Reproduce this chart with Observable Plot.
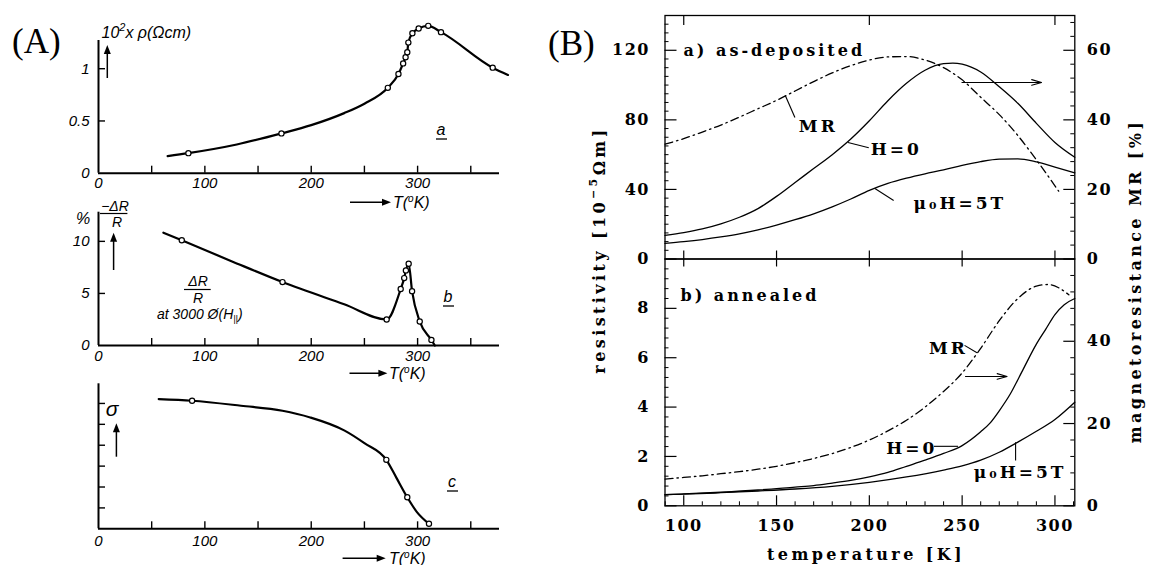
<!DOCTYPE html>
<html><head><meta charset="utf-8">
<script src="https://cdn.jsdelivr.net/npm/d3@7"></script>
<script src="https://cdn.jsdelivr.net/npm/@observablehq/plot@0.6"></script>
<style>
html,body{margin:0;padding:0;background:#fff;}
#root{position:relative;width:1149px;height:565px;overflow:hidden;background:#fff;}
</style></head><body><div id="root"></div>
<script>
// ================= Panel (A) data =================
const aXTicks = [50, 100, 150, 200, 250, 300, 350];
const aXLabels = [0, 100, 200, 300];
// (a) resistivity 10^2 x rho (Ohm cm) vs T (K)
const aRhoTicks = [0.5, 1];
const aRhoLabels = [0, 0.5, 1];
const aRhoCurve = [[65,0.163],[84.5,0.192],[130,0.275],[172,0.381],[200,0.46],[231,0.575],[250,0.665],[272,0.817],[282,0.949],[286.4,1.051],[288.7,1.109],[290.3,1.157],[291.3,1.25],[295.1,1.34],[301,1.385],[310,1.41],[322,1.35],[370.6,1.01],[385,0.94]];
const aRhoPoints = [[84.5,0.192],[172,0.381],[272,0.817],[282,0.949],[286.4,1.051],[288.7,1.109],[290.3,1.157],[291.3,1.25],[295.1,1.34],[301,1.385],[310,1.41],[322,1.35],[370.6,1.01]];
// (b) -dR/R (%)
const aMrTicks = [5, 10];
const aMrLabels = [0, 5, 10];
const aMrCurve = [[61,10.83],[78.3,10.1],[125,8.1],[173,6.09],[231,3.96],[270.9,2.5],[284.1,5.42],[287.4,6.47],[289,7.21],[291.6,7.85],[294.8,5.22],[302,2.31],[313,0.54],[316.2,0]];
const aMrPoints = [[78.3,10.1],[173,6.09],[270.9,2.5],[284.1,5.42],[287.4,6.47],[289,7.21],[291.6,7.85],[294.8,5.22],[302,2.31],[313,0.54]];
// (c) sigma
const aSigTicks = [1, 2, 3, 4, 5, 6];
const aSigCurve = [[56.6,6.21],[88,6.13],[134,5.89],[173,5.65],[199,5.33],[231.4,4.7],[250,4.1],[270.6,3.3],[280,2.45],[290.3,1.51],[299.4,0.8],[310.7,0.24]];
const aSigPoints = [[88,6.13],[270.6,3.3],[290.3,1.51],[310.7,0.24]];

// ================= Panel (B) data =================
const bXDomain = [89.9, 310.7];
const bXLabels = [100, 150, 200, 250, 300];
const bXMinor = d3.range(90, 311, 10).filter(v => v % 50 !== 0);
const bTopTopTicks = [100, 200, 300];
// a) as-deposited : resistivity (10^-5 Ohm m) and MR (%)
const bTopLeftLabels = [0, 40, 80, 120];
const bTopLeftMinor = d3.range(5, 140, 5).filter(v => v % 40 !== 0);
const bTopRightLabels = [0, 20, 40, 60];
const bTopRightMinor = d3.range(4, 70, 4).filter(v => v % 20 !== 0);
const bTopH0 = [[89.9,13.6],[100,15.2],[110,17.3],[120,20.2],[130,24],[140,29],[150,36],[160,44],[170,52],[180,60],[190,69],[200,79.5],[210,91],[220,101],[230,108.5],[240,112.3],[245,112.6],[250,112],[260,107.5],[270,99],[280,89.5],[290,78],[300,67],[310.7,58.5]];
const bTop5T = [[89.9,9],[100,10],[110,11.2],[120,12.7],[130,14.5],[140,16.8],[150,19.5],[160,22.6],[170,26],[180,30],[190,34.5],[200,39.5],[210,43.5],[220,46.5],[230,49],[240,51.2],[250,53.8],[260,56],[270,57.4],[280,57.6],[290,55.8],[300,52.8],[310.7,49.5]];
const bTopMR = [[89.9,33],[100,34.6],[110,36.5],[120,38.5],[130,40.8],[140,43.2],[150,45.6],[160,48.3],[170,51],[180,53.5],[190,55.6],[200,57.2],[210,58.1],[220,58.2],[230,57.2],[240,55],[250,51.5],[260,46.5],[270,41.5],[280,35.5],[290,28.5],[302,19.5]];
// b) annealed
const bBotLeftLabels = [0, 2, 4, 6, 8];
const bBotLeftMinor = d3.range(0.4, 10, 0.4).filter(v => Math.abs(v / 2 - Math.round(v / 2)) > 0.01);
const bBotRightLabels = [0, 20, 40];
const bBotRightMinor = d3.range(4, 60, 4).filter(v => v % 20 !== 0);
const bBotH0 = [[89.9,0.45],[100,0.48],[120,0.55],[140,0.64],[160,0.76],[170,0.82],[180,0.92],[190,1.03],[200,1.17],[210,1.35],[220,1.6],[230,1.85],[240,2.12],[250,2.44],[260,3.0],[265,3.35],[270,3.85],[276,4.54],[283,5.55],[290,6.55],[295,7.15],[300,7.75],[305,8.15],[310.7,8.4]];
const bBot5T = [[89.9,0.45],[100,0.47],[120,0.53],[140,0.6],[160,0.68],[180,0.79],[200,0.95],[220,1.17],[240,1.45],[250,1.62],[260,1.85],[270,2.17],[280,2.58],[290,3.02],[300,3.5],[310.7,4.2]];
const bBotMR = [[89.9,6.5],[100,6.9],[110,7.3],[120,7.8],[130,8.3],[140,8.9],[150,9.6],[160,10.5],[170,11.5],[180,12.7],[190,14.2],[200,16],[210,18.2],[220,20.8],[230,24],[240,27.8],[250,32.3],[260,38.3],[270,45],[280,50.4],[290,53.4],[296,53.8],[302,53],[307.5,51.3]];

// annotations (data coordinates)
const bTopNotes = [{T:162, v:76.2, s:"MR"}, {T:200.7, v:63, s:"H=0"}, {T:223.8, v:31.9, s:"μ₀H=5T"}];
const bTopLeaders = [{T1:154.7, v1:94, T2:159.9, v2:81.4}, {T1:188.5, v1:67, T2:199.7, v2:64}, {T1:203, v1:40.5, T2:213.1, v2:33.6}];
const bTopArrow = [{T1:249.9, v1:101.5, T2:292.8, v2:101.5}];
const bBotNotes = [{T:232.1, v:6.37, s:"MR"}, {T:209.1, v:2.31, s:"H=0"}, {T:256.3, v:1.36, s:"μ₀H=5T"}];
const bBotLeaders = [{T1:251.3, v1:6.5, T2:258, v2:6.2}, {T1:234.8, v1:2.41, T2:247.8, v2:2.41}, {T1:278.8, v1:2.58, T2:278.8, v2:1.84}];
const bBotArrow = [{T1:251.8, v1:5.24, T2:274.2, v2:5.24}];

// ================= drawing =================
const root = document.getElementById("root");
function place(el, left, top) {
  el.style.position = "absolute"; el.style.left = left + "px"; el.style.top = top + "px";
  root.appendChild(el);
}
const styleA = "font-family:'Liberation Sans',Arial,sans-serif;font-size:15px;font-style:italic;background:transparent;overflow:visible;";
const styleB = "font-family:'DejaVu Serif',serif;font-size:16px;font-weight:bold;letter-spacing:1.5px;background:transparent;overflow:visible;";
const X = d => d[0], Y = d => d[1];
const xDomA = [0, 377];

function panelA(o) {
  return Plot.plot({
    width: 540, height: o.height, marginLeft: 98, marginRight: 41, marginTop: o.mt, marginBottom: o.mb,
    x: {domain: xDomA, axis: null}, y: {domain: o.yDom, axis: null},
    style: styleA,
    marks: [
      Plot.ruleX([0], {strokeWidth: 2}),
      Plot.ruleY([0], {strokeWidth: 2}),
      Plot.ruleX(aXTicks, {x: d => d, y1: 0, y2: 0, insetBottom: 7, strokeWidth: 1.4}),
      Plot.ruleY(o.yTicks, {y: d => d, x1: 0, x2: 0, insetRight: -7, strokeWidth: 1.4}),
      Plot.axisX(aXLabels, {tickSize: 0, tickPadding: o.xPad, tickFormat: d => String(d)}),
      o.yLabels ? Plot.axisY(o.yLabels, {tickSize: 0, tickPadding: 9, tickFormat: d => String(d)}) : null,
      Plot.line(o.curve, {x: X, y: Y, curve: "monotone-x", strokeWidth: 2.2}),
      Plot.dot(o.points, {x: X, y: Y, r: 2.6, fill: "white", stroke: "black", strokeWidth: 1.2})
    ]
  });
}
place(panelA({height: 200, mt: 40, mb: 27.3, yDom: [0, 1.27], yTicks: aRhoTicks, yLabels: aRhoLabels, curve: aRhoCurve, points: aRhoPoints, xPad: 4}), 0, 0);
place(panelA({height: 160, mt: 11.7, mb: 15, yDom: [0, 12.8], yTicks: aMrTicks, yLabels: aMrLabels, curve: aMrCurve, points: aMrPoints, xPad: 5}), 0, 200);
place(panelA({height: 195, mt: 13.3, mb: 36.7, yDom: [0, 6.94], yTicks: aSigTicks, yLabels: null, curve: aSigCurve, points: aSigPoints, xPad: 6.5}), 0, 370);

const topScale = v => v * 2;          // MR % -> left units (0..140)
const botScale = v => v / 6;          // MR % -> left units (0..10)

function panelB(o) {
  const [x0, x1] = bXDomain;
  const [y0, y1] = o.yDom;
  const svg = Plot.plot({
    width: 609, height: o.height, marginLeft: 124.5, marginRight: 74.7, marginTop: o.mt, marginBottom: o.mb,
    x: {domain: bXDomain, axis: null}, y: {domain: o.yDom, axis: null},
    style: styleB,
    marks: [
      Plot.frame({strokeWidth: 1.3}),
      Plot.ruleY(o.leftLabels, {y: d => d, x1: x0, x2: x0, insetRight: -12, strokeWidth: 1.2}),
      Plot.ruleY(o.leftMinor, {y: d => d, x1: x0, x2: x0, insetRight: -4, strokeWidth: 1}),
      Plot.ruleY(o.rightLabels, {y: d => o.conv(d), x1: x1, x2: x1, insetLeft: -11, strokeWidth: 1.2}),
      Plot.ruleY(o.rightMinor, {y: d => o.conv(d), x1: x1, x2: x1, insetLeft: -4, strokeWidth: 1}),
      Plot.ruleX(bXLabels, {x: d => d, y1: y0, y2: y0, insetBottom: o.bottomMajor, strokeWidth: 1.2}),
      o.bottomMinor ? Plot.ruleX(bXMinor, {x: d => d, y1: y0, y2: y0, insetBottom: 4, strokeWidth: 1}) : null,
      Plot.ruleX(o.topTicks, {x: d => d, y1: y1, y2: y1, insetTop: o.topLen, strokeWidth: 1.2}),
      Plot.axisY(o.leftLabels, {anchor: "left", tickSize: 0, tickPadding: 15, tickFormat: d => String(d)}),
      Plot.axisY(o.rightLabels.map(o.conv), {anchor: "right", tickSize: 0, tickPadding: 12, tickFormat: d => String(Math.round(o.inv(d)))}),
      o.xLabels ? Plot.axisX(bXLabels, {anchor: "bottom", tickSize: 0, tickPadding: 14, tickFormat: d => String(d)}) : null,
      Plot.line(o.h0, {x: X, y: Y, curve: "monotone-x", strokeWidth: 1.3}),
      Plot.line(o.t5, {x: X, y: Y, curve: "monotone-x", strokeWidth: 1.3}),
      Plot.line(o.mr, {x: X, y: d => o.conv(d[1]), curve: "monotone-x", strokeWidth: 1.3, strokeDasharray: "8,4,1.5,4"}),
      Plot.text([o.title], {frameAnchor: "top-left", dx: o.titleDx, dy: o.titleDy, textAnchor: "start", text: d => d}),
      Plot.text(o.notes, {x: "T", y: "v", text: "s", textAnchor: "start", fontSize: 17}),
      Plot.link(o.leaders, {x1: "T1", y1: "v1", x2: "T2", y2: "v2", strokeWidth: 1.1}),
      Plot.arrow(o.arrow, {x1: "T1", y1: "v1", x2: "T2", y2: "v2", strokeWidth: 1.1, headLength: 14, headAngle: 32})
    ]
  });
  svg.querySelectorAll('g[aria-label="text"] text').forEach(t => t.style.letterSpacing = "3px");
  return svg;
}
place(panelB({height: 270, mt: 15, mb: 11.5, yDom: [0, 140], leftLabels: bTopLeftLabels, leftMinor: bTopLeftMinor,
  rightLabels: bTopRightLabels, rightMinor: bTopRightMinor, conv: topScale, inv: v => v / 2,
  bottomMajor: 8, bottomMinor: false, topTicks: bTopTopTicks, topLen: 10, xLabels: false,
  h0: bTopH0, t5: bTop5T, mr: bTopMR, title: "a) as-deposited", titleDx: 18.5, titleDy: 29,
  notes: bTopNotes, leaders: bTopLeaders, arrow: bTopArrow}), 540, 0);
place(panelB({height: 315, mt: 8.5, mb: 59.7, yDom: [0, 10], leftLabels: bBotLeftLabels, leftMinor: bBotLeftMinor,
  rightLabels: bBotRightLabels, rightMinor: bBotRightMinor, conv: botScale, inv: v => v * 6,
  bottomMajor: 10, bottomMinor: true, topTicks: bXLabels, topLen: 8, xLabels: true,
  h0: bBotH0, t5: bBot5T, mr: bBotMR, title: "b) annealed", titleDx: 15.5, titleDy: 30.5,
  notes: bBotNotes, leaders: bBotLeaders, arrow: bBotArrow}), 540, 250);

// ================= overlay text =================
const ov = d3.create("svg").attr("width", 1149).attr("height", 565)
  .style("position", "absolute").style("left", "0px").style("top", "0px").style("overflow", "visible");
const sans = "'Liberation Sans',Arial,sans-serif";
const serif = "'Liberation Serif','Times New Roman',serif";
const dv = "'DejaVu Serif',serif";
function txt(x, y, s, o = {}) {
  return ov.append("text").attr("x", x).attr("y", y).text(s)
    .attr("font-family", o.family || sans).attr("font-size", o.size || 15)
    .attr("font-style", o.style || "italic").attr("text-anchor", o.anchor || "start");
}
function arrowUp(x, yb, yt) {
  ov.append("line").attr("x1", x).attr("x2", x).attr("y1", yb).attr("y2", yt + 6).attr("stroke", "black").attr("stroke-width", 1.5);
  ov.append("path").attr("d", `M${x - 3.5},${yt + 9}L${x},${yt}L${x + 3.5},${yt + 9}Z`).attr("fill", "black");
}
function arrowRight(x1, x2, y) {
  ov.append("line").attr("x1", x1).attr("x2", x2 - 6).attr("y1", y).attr("y2", y).attr("stroke", "black").attr("stroke-width", 1.5);
  ov.append("path").attr("d", `M${x2 - 9},${y - 3.5}L${x2},${y}L${x2 - 9},${y + 3.5}Z`).attr("fill", "black");
}
function tLabel(x, baseline) {
  const t = txt(x, baseline, "T(", {size: 16});
  t.append("tspan").attr("font-size", 10).attr("dy", -6).text("o");
  t.append("tspan").attr("dy", 6).text("K)");
}
function underlined(x, y, s) {
  txt(x, y, s, {size: 16, anchor: "middle"});
  ov.append("line").attr("x1", x - 5).attr("x2", x + 6).attr("y1", y + 4).attr("y2", y + 4).attr("stroke", "black").attr("stroke-width", 1.3);
}
// panel letters
txt(12, 53, "(A)", {family: serif, size: 35, style: "normal"});
txt(548, 55, "(B)", {family: serif, size: 35, style: "normal"});
// (a)
const rl = txt(101.5, 38, "10", {size: 16});
rl.append("tspan").attr("font-size", 11).attr("dy", -7).text("2");
rl.append("tspan").attr("dy", 7).text("x ρ(Ωcm)");
arrowUp(107.3, 78, 45);
underlined(441, 135, "a");
arrowRight(350, 391, 202.3); tLabel(393, 208);
// (b)
txt(83, 224, "%", {size: 16, anchor: "middle"});
txt(115, 210.5, "−ΔR", {size: 14, anchor: "middle"});
ov.append("line").attr("x1", 100).attr("x2", 127.4).attr("y1", 213.5).attr("y2", 213.5).attr("stroke", "black").attr("stroke-width", 1.2);
txt(117, 227, "R", {size: 14, anchor: "middle"});
arrowUp(113.6, 270, 232.7);
txt(198, 286, "ΔR", {size: 14, anchor: "middle"});
ov.append("line").attr("x1", 184).attr("x2", 210.7).attr("y1", 289.5).attr("y2", 289.5).attr("stroke", "black").attr("stroke-width", 1.2);
txt(198, 302.5, "R", {size: 14, anchor: "middle"});
const at = txt(157, 318.5, "at 3000 Ø(H", {size: 14});
at.append("tspan").attr("font-size", 9).attr("dy", 3).text("||");
at.append("tspan").attr("dy", -3).text(")");
underlined(448, 302, "b");
arrowRight(349.5, 387.4, 373.3); tLabel(389, 379);
// (c)
txt(112, 416, "σ", {size: 21, anchor: "middle"});
arrowUp(116.4, 456.7, 423.3);
underlined(452, 487, "c");
arrowRight(342.6, 385.7, 558.3); tLabel(389, 563.5);
// (B) axis titles
const bt = (x, y, s, rot) => ov.append("text").attr("transform", `translate(${x},${y}) rotate(${rot})`)
  .attr("font-family", dv).attr("font-size", 16).attr("font-weight", "bold").attr("letter-spacing", "3.4px").attr("text-anchor", "middle").text(s);
const lt = bt(605, 250, "resistivity [10", -90);
lt.append("tspan").attr("font-size", 11).attr("dy", -8).text("−5");
lt.append("tspan").attr("dy", 8).text("Ωm]");
bt(1141, 281, "magnetoresistance MR [%]", -90);
bt(866, 560, "temperature [K]", 0);
root.appendChild(ov.node());
</script>
</body></html>
